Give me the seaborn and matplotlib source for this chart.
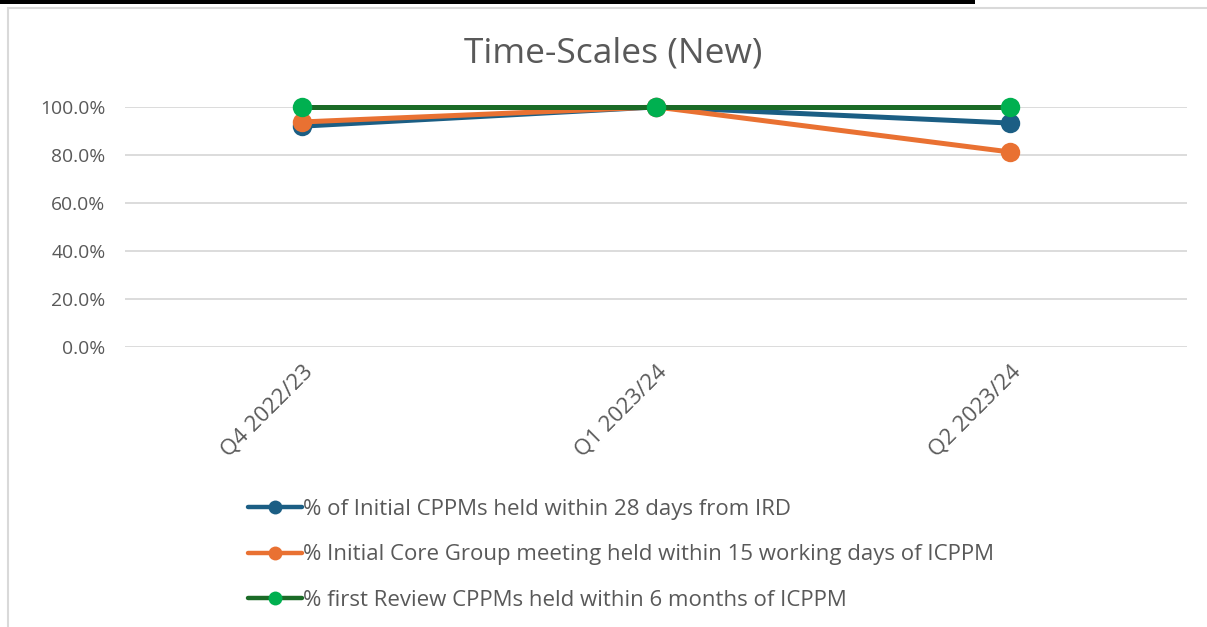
import matplotlib
matplotlib.use("Agg")
import matplotlib.pyplot as plt
from matplotlib.lines import Line2D
from matplotlib.patches import Rectangle
import pandas as pd
import seaborn as sns

quarters = ["Q4 2022/23", "Q1 2023/24", "Q2 2023/24"]
initial_cppm = [0.92, 1.00, 0.933]
core_group = [0.9375, 1.00, 0.8125]
first_review = [1.00, 1.00, 1.00]

series_names = [
    "% of Initial CPPMs held within 28 days from IRD",
    "% Initial Core Group meeting held within 15 working days of ICPPM",
    "% first Review CPPMs held within 6 months of ICPPM",
]
line_colors = ["#1b5e84", "#e97132", "#1b6b27"]
marker_colors = ["#1b5e84", "#e97132", "#00b050"]

sns.set_theme(style="white")
plt.rcParams["font.family"] = ["Open Sans", "DejaVu Sans"]
text_grey = "#595959"

fig = plt.figure(figsize=(12.07, 6.27), dpi=100)
ax = fig.add_axes([0.1036, 0.4466, 0.8798, 0.3828])

handles = []
for name, vals, lc, mc in zip(series_names, [initial_cppm, core_group, first_review],
                              line_colors, marker_colors):
    df = pd.DataFrame({"quarter": quarters, "value": vals})
    sns.lineplot(data=df, x="quarter", y="value", ax=ax, color=lc, linewidth=3.6,
                 marker="o", markersize=14, markerfacecolor=mc, markeredgecolor=mc,
                 markeredgewidth=0, clip_on=False, zorder=3)
    handles.append(Line2D([0], [0], color=lc, linewidth=3.2, marker="o", markersize=10,
                          markerfacecolor=mc, markeredgewidth=0,
                          solid_capstyle="round", label=name))

ax.set_xlim(-0.5, 2.5)
ax.set_ylim(0, 1.0)
ax.set_yticks([0, 0.2, 0.4, 0.6, 0.8, 1.0])
ax.set_yticklabels([f"{v * 100:.1f}%" for v in [0, 0.2, 0.4, 0.6, 0.8, 1.0]])
ax.yaxis.grid(True, color="#d9d9d9", linewidth=1.3)
ax.set_axisbelow(True)
for s in ax.spines.values():
    s.set_visible(False)
ax.tick_params(axis="y", length=0, labelsize=13.9, labelcolor=text_grey, pad=14)
ax.tick_params(axis="x", length=0, labelsize=16, labelcolor=text_grey, pad=10)
for lab in ax.get_xticklabels():
    lab.set_rotation(45)
    lab.set_ha("right")
    lab.set_rotation_mode("anchor")
ax.set_xlabel("")
ax.set_ylabel("")
if ax.get_legend():
    ax.get_legend().remove()

fig.text(0.508, 0.915, "Time-Scales (New)", ha="center", va="center",
         fontsize=25.5, color=text_grey)

fig.legend(handles=handles, loc="upper left", bbox_to_anchor=(0.196, 0.222),
           frameon=False, fontsize=16, labelcolor=text_grey, handlelength=2.45,
           handletextpad=0.05, labelspacing=1.1, borderpad=0)

# chart frame and black strip at top
fig.patches.append(Rectangle((8 / 1207, -0.01), 1.0, 1 - 8 / 627 + 0.01,
                             transform=fig.transFigure, fill=False,
                             edgecolor="#d9d9d9", linewidth=1.5))
fig.patches.append(Rectangle((0, 1 - 4 / 627), 975 / 1207, 4 / 627,
                             transform=fig.transFigure, facecolor="black",
                             edgecolor="none"))

fig.savefig("out.png", dpi=100)
